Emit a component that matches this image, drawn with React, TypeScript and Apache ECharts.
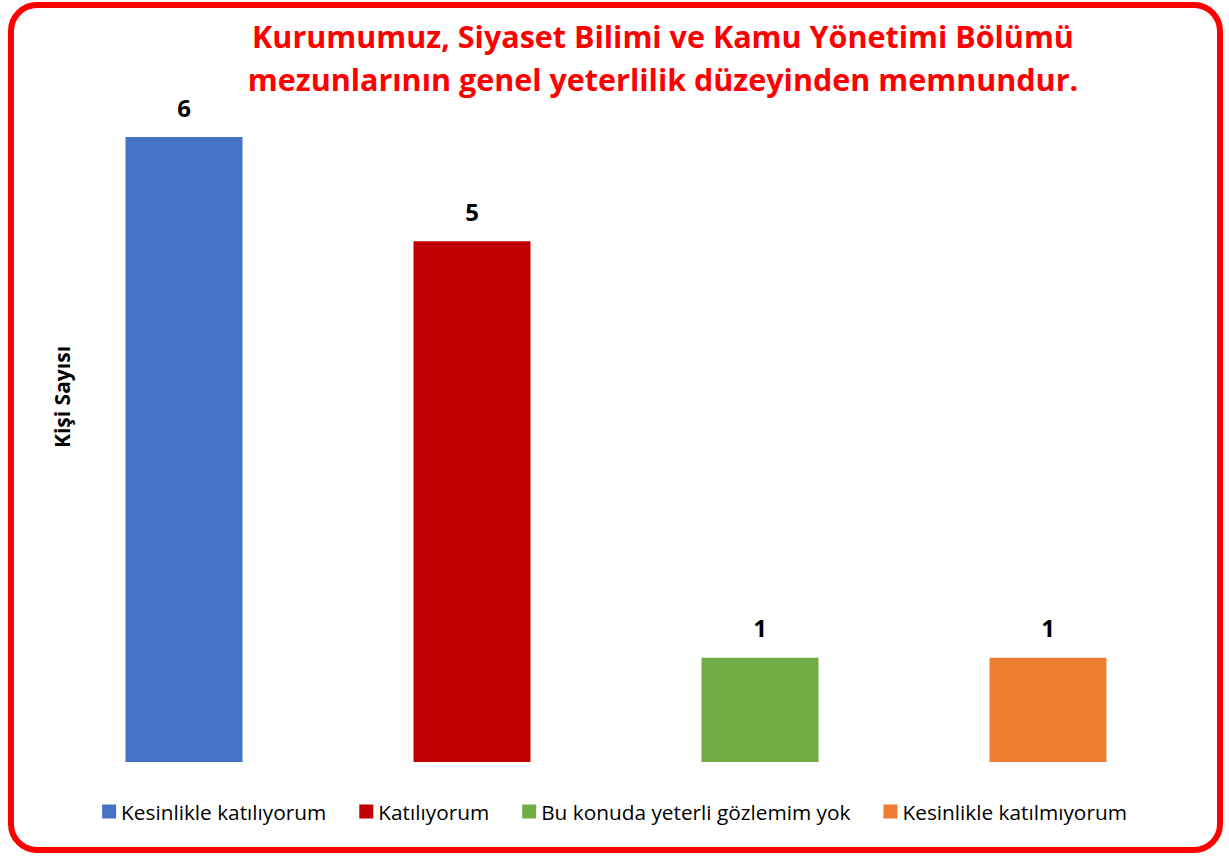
import React, { useEffect, useRef } from "react";
import * as echarts from "echarts";

const categories = ["Kesinlikle katılıyorum", "Katılıyorum", "Bu konuda yeterli gözlemim yok", "Kesinlikle katılmıyorum"];
const values = [6, 5, 1, 1];
const colors = ["#4472C4", "#C00000", "#70AD47", "#ED7D31"];
const titleLines = ["Kurumumuz, Siyaset Bilimi ve Kamu Yönetimi Bölümü", "mezunlarının genel yeterlilik düzeyinden memnundur."];
const yAxisName = "Kişi Sayısı";

export default function App() {
  const ref = useRef<HTMLDivElement>(null);
  useEffect(() => {
    document.body.style.margin = "0";
    const chart = echarts.init(ref.current!, null, { renderer: "svg" });
    const series = categories.map((name, i) => ({
      name,
      type: "bar",
      data: categories.map((_, j) => (j === i ? values[i] : "-")),
      barWidth: 117,
      barGap: "-100%",
      itemStyle: { color: colors[i] },
      label: {
        show: true,
        position: "top",
        distance: 18,
        color: "#000",
        fontWeight: "bold",
        fontSize: 24,
        fontFamily: "Open Sans",
      },
    }));
    chart.setOption({
      animation: false,
      backgroundColor: "#fff",
      title: {
        text: titleLines.join("\n"),
        left: 658,
        textAlign: "center",
        top: 9,
        textStyle: {
          color: "#FF0000",
          fontWeight: "bold",
          fontSize: 30.5,
          lineHeight: 43,
          fontFamily: "Open Sans",
        },
      },
      legend: {
        bottom: 29,
        left: "center",
        itemWidth: 14,
        itemHeight: 14,
        itemGap: 33,
        icon: "rect",
        textStyle: { fontSize: 20.8, color: "#000", fontFamily: "Open Sans" },
        data: categories,
      },
      grid: { left: 40, right: 37, top: 137, bottom: 94 },
      xAxis: {
        type: "category",
        data: categories,
        axisLine: { show: false },
        axisTick: { show: false },
        axisLabel: { show: false },
      },
      yAxis: {
        type: "value",
        min: 0,
        max: 6,
        interval: 1,
        axisLine: { show: false },
        axisTick: { show: false },
        axisLabel: { show: false },
        splitLine: { show: false },
      },
      graphic: [
        {
          type: "text",
          x: 62,
          y: 397,
          rotation: Math.PI / 2,
          style: {
            text: yAxisName,
            fontSize: 21,
            fontWeight: "bold",
            fill: "#000",
            fontFamily: "Open Sans",
            align: "center",
            verticalAlign: "middle",
          },
        },
        {
          type: "rect",
          shape: { x: 11, y: 5, width: 1209, height: 845, r: 26 },
          style: { fill: "none", stroke: "#FF0000", lineWidth: 6 },
          z: 100,
        },
      ],
      series,
    });
    return () => chart.dispose();
  }, []);
  return <div ref={ref} style={{ width: 1229, height: 856, position: "absolute", left: 0, top: 0 }} />;
}
